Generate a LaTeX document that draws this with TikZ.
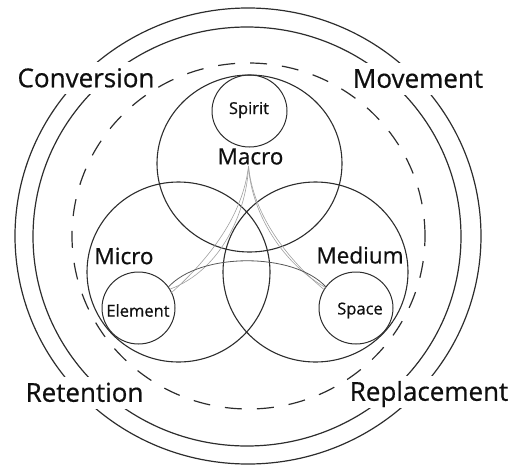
\documentclass[tikz,border=0pt]{standalone}
\usepackage{fontspec}
\setmainfont{Open Sans}[BoldFont=Open Sans, BoldFeatures={FakeBold=0.6}]
\usetikzlibrary{shapes.geometric}
\definecolor{ink}{RGB}{45,45,45}
\definecolor{txt}{RGB}{15,15,15}
\definecolor{faintc}{RGB}{160,160,160}
\begin{document}
\begin{tikzpicture}[x=1pt,y=-1pt,
  ring/.style={draw=ink, line width=1.2pt},
  dashring/.style={draw=ink, line width=1.2pt, dash pattern=on 17pt off 15pt},
  bubble/.style={ellipse, draw=ink, line width=1pt, inner sep=0pt, outer sep=0pt},
  biglabel/.style={fill=white, font=\fontsize{26}{26}\selectfont\bfseries, text=txt, text height=18.5pt, text depth=0pt, minimum height=32pt, inner xsep=3pt},
  midlabel/.style={font=\fontsize{22.5}{22.5}\selectfont\bfseries, text=txt, inner sep=0pt},
  smalllabel/.style={font=\fontsize{16.5}{16.5}\selectfont\bfseries, text=txt, inner sep=0pt},
  faint/.style={draw=faintc, line width=0.6pt},
  midline/.style={draw=ink!80, line width=0.8pt},
]
\useasboundingbox (0,0) rectangle (516,466);
% outer rings
\draw[ring] (248,236) ellipse [x radius=233pt, y radius=228pt];
\draw[ring] (247,236.5) ellipse [x radius=214pt, y radius=209.5pt];
% corner labels (cut the rings)
\node[biglabel] (conv) at (86,78) {Conversion};
\node[biglabel] (move) at (418,78.5) {Movement};
\node[biglabel] (ret) at (84.5,392.5) {Retention};
\node[biglabel] (repl) at (429,391.5) {Replacement};
% dashed ring
\draw[dashring] (248.5,236) ellipse [x radius=176.5pt, y radius=173pt];
% three main circles
\draw[ring, line width=1.1pt] (249.5,163.5) ellipse [x radius=92.5pt, y radius=88.5pt];
\draw[ring, line width=1.1pt] (178.5,272) ellipse [x radius=91.5pt, y radius=90pt];
\draw[ring, line width=1.1pt] (315.5,272) ellipse [x radius=92.5pt, y radius=90pt];
% small circles
\node[bubble, minimum width=75pt, minimum height=72pt] (spirit) at (249.5,111) {};
\node[bubble, minimum width=73pt, minimum height=72pt] (element) at (138.5,308) {};
\node[bubble, minimum width=74pt, minimum height=72pt] (space) at (356,308) {};
% labels
\node[smalllabel] (spiritT) at (249,110) {Spirit};
\node[smalllabel] (elementT) at (138,310.5) {Element};
\node[smalllabel] (spaceT) at (360,310.5) {Space};
\node[midlabel] (macro) at (250.5,156.5) {Macro};
\node[midlabel] (micro) at (124,256) {Micro};
\node[midlabel] (medium) at (360,255) {Medium};
% faint connecting curves
\coordinate (apex) at (248.5,166);
\draw[faint] (apex) .. controls (247,210) and (222,270) .. (element.31);
\draw[faint] (apex) .. controls (251,210) and (280,262) .. (space.146);
\draw[faint] (element.25) .. controls (210,258) and (243,215) .. (apex);
\draw[faint] (space.150) .. controls (288,260) and (253,215) .. (apex);
\draw[midline] (element.35) .. controls (200,252) and (294,252) .. (space.145);
\end{tikzpicture}
\end{document}
